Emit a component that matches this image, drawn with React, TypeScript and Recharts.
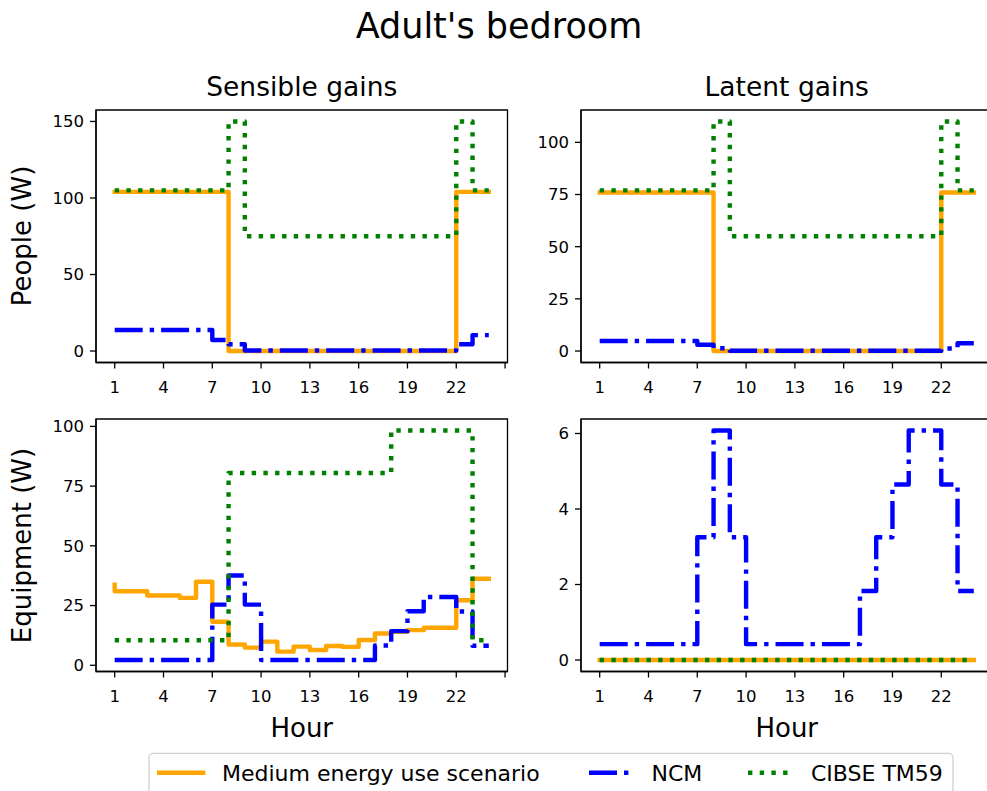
import React from 'react';
import { LineChart, Line, XAxis, YAxis, ReferenceArea } from 'recharts';

// ---- data -------------------------------------------------------------
const hours = [1, 2, 3, 4, 5, 6, 7, 8, 9, 10, 11, 12, 13, 14, 15, 16, 17, 18, 19, 20, 21, 22, 23, 24];
const seriesNames = ['Medium energy use scenario', 'NCM', 'CIBSE TM59'];
const xTicks = [1, 4, 7, 10, 13, 16, 19, 22, 25];

// People, sensible (W)
const peopleSensibleMedium = [104, 104, 104, 104, 104, 104, 104, 104, 0, 0, 0, 0, 0, 0, 0, 0, 0, 0, 0, 0, 0, 0, 104, 104];
const peopleSensibleNcm = [13.7, 13.7, 13.7, 13.7, 13.7, 13.7, 13.7, 7.2, 4.4, 0.3, 0.3, 0.3, 0.3, 0.3, 0.3, 0.3, 0.3, 0.3, 0.3, 0.3, 0.3, 0.3, 4.4, 10.4];
const peopleSensibleTm59 = [105, 105, 105, 105, 105, 105, 105, 105, 150, 75, 75, 75, 75, 75, 75, 75, 75, 75, 75, 75, 75, 75, 150, 105];

// People, latent (W)
const peopleLatentMedium = [76, 76, 76, 76, 76, 76, 76, 76, 0, 0, 0, 0, 0, 0, 0, 0, 0, 0, 0, 0, 0, 0, 76, 76];
const peopleLatentNcm = [4.8, 4.8, 4.8, 4.8, 4.8, 4.8, 4.8, 3.0, 1.3, 0.1, 0.1, 0.1, 0.1, 0.1, 0.1, 0.1, 0.1, 0.1, 0.1, 0.1, 0.1, 0.1, 1.2, 3.7];
const peopleLatentTm59 = [77, 77, 77, 77, 77, 77, 77, 77, 110, 55, 55, 55, 55, 55, 55, 55, 55, 55, 55, 55, 55, 55, 110, 77];

// Equipment, sensible (W)
const equipSensibleMedium = [33.7, 31, 31, 29.2, 29.2, 28.2, 35, 18.2, 8.7, 7.4, 9.9, 5.7, 7.8, 6.4, 8.1, 7.7, 10.6, 13.3, 14, 14.7, 15.7, 15.7, 27.2, 36.2];
const equipSensibleNcm = [2.2, 2.2, 2.2, 2.2, 2.2, 2.2, 2.2, 25.4, 37.6, 25.4, 2.2, 2.2, 2.2, 2.2, 2.2, 2.2, 2.2, 8.3, 14.3, 22.6, 28.6, 28.6, 22.5, 8.2];
const equipSensibleTm59 = [10.5, 10.5, 10.5, 10.5, 10.5, 10.5, 10.5, 10.5, 80.5, 80.5, 80.5, 80.5, 80.5, 80.5, 80.5, 80.5, 80.5, 80.5, 98.3, 98.3, 98.3, 98.3, 98.3, 10.5];

// Equipment, latent (W)
const equipLatentMedium = [0, 0, 0, 0, 0, 0, 0, 0, 0, 0, 0, 0, 0, 0, 0, 0, 0, 0, 0, 0, 0, 0, 0, 0];
const equipLatentNcm = [0.42, 0.42, 0.42, 0.42, 0.42, 0.42, 0.42, 3.25, 6.08, 3.25, 0.42, 0.42, 0.42, 0.42, 0.42, 0.42, 0.42, 1.83, 3.25, 4.65, 6.08, 6.08, 4.65, 1.83];
const equipLatentTm59 = [0, 0, 0, 0, 0, 0, 0, 0, 0, 0, 0, 0, 0, 0, 0, 0, 0, 0, 0, 0, 0, 0, 0, 0];

// ---- styling ----------------------------------------------------------
const FONT = '"DejaVu Sans", sans-serif';
const ORANGE = '#FFA500';
const BLUE = '#0000FF';
const GREEN = '#008000';
const LW = 4.4;
const NCM_DASH = '28 7 4.4 7';
const TM59_DASH = '4.4 7.3';

const X_DOMAIN: [number, number] = [-0.15, 25.15];
const PLOT_W = 411.5;
const PLOT_H = 252.5;
const Y_AXIS_W = 96;
const X_AXIS_H = 60;
const TOP_PAD = 10;

type Row = { hour: number; medium: number; ncm: number; tm59: number };

const buildRows = (medium: number[], ncm: number[], tm59: number[]): Row[] =>
  hours.map((h, i) => ({ hour: h, medium: medium[i], ncm: ncm[i], tm59: tm59[i] }));

const tickStyle = { fontSize: 16.5, fill: '#000', fontFamily: FONT };
const axisStroke = { stroke: '#000', strokeWidth: 1.3 };

type PanelProps = {
  rows: Row[];
  yDomain: [number, number];
  yTicks: number[];
  left: number;
  top: number;
};

function Panel({ rows, yDomain, yTicks, left, top }: PanelProps) {
  return (
    <div style={{ position: 'absolute', left, top }}>
      <LineChart
        width={Y_AXIS_W + PLOT_W + 2}
        height={TOP_PAD + PLOT_H + X_AXIS_H}
        data={rows}
        margin={{ top: TOP_PAD, right: 2, bottom: 0, left: 0 }}
      >
        <XAxis
          dataKey="hour"
          type="number"
          domain={X_DOMAIN}
          ticks={xTicks}
          interval={0}
          tickFormatter={(v: number) => (v === 25 ? '' : String(v))}
          axisLine={axisStroke}
          tickLine={axisStroke}
          tickSize={6}
          tickMargin={13}
          height={X_AXIS_H}
          tick={tickStyle}
        />
        <YAxis
          type="number"
          domain={yDomain}
          ticks={yTicks}
          interval={0}
          width={Y_AXIS_W}
          axisLine={axisStroke}
          tickLine={axisStroke}
          tickSize={6}
          tickMargin={6}
          tick={tickStyle}
        />
        <Line
          type="stepBefore"
          dataKey="medium"
          name={seriesNames[0]}
          stroke={ORANGE}
          strokeWidth={LW}
          strokeLinecap="square"
          strokeLinejoin="round"
          dot={false}
          activeDot={false}
          isAnimationActive={false}
        />
        <Line
          type="stepBefore"
          dataKey="ncm"
          name={seriesNames[1]}
          stroke={BLUE}
          strokeWidth={LW}
          strokeDasharray={NCM_DASH}
          strokeLinejoin="round"
          dot={false}
          activeDot={false}
          isAnimationActive={false}
        />
        <Line
          type="stepBefore"
          dataKey="tm59"
          name={seriesNames[2]}
          stroke={GREEN}
          strokeWidth={LW}
          strokeDasharray={TM59_DASH}
          strokeLinejoin="round"
          dot={false}
          activeDot={false}
          isAnimationActive={false}
        />
        {/* axes frame (top and right spines included) */}
        <ReferenceArea
          x1={X_DOMAIN[0]}
          x2={X_DOMAIN[1]}
          y1={yDomain[0]}
          y2={yDomain[1]}
          fill="none"
          fillOpacity={0}
          stroke="#000"
          strokeWidth={1.3}
          strokeOpacity={1}
          ifOverflow="visible"
        />
      </LineChart>
    </div>
  );
}

// Legend handles: colour + dash pattern per series
const legendItems = [
  { name: seriesNames[0], color: ORANGE, dash: undefined as string | undefined, cap: 'square', lineX: 159.2, textX: 222 },
  { name: seriesNames[1], color: BLUE, dash: NCM_DASH, cap: 'butt', lineX: 589, textX: 651.5 },
  { name: seriesNames[2], color: GREEN, dash: TM59_DASH, cap: 'butt', lineX: 748, textX: 811 },
];

export default function App() {
  const leftX = 0;
  const rightX = 485;
  const topY = 100;
  const bottomY = 409;
  return (
    <div
      style={{
        position: 'absolute',
        left: 0,
        top: 0,
        width: 987,
        height: 791,
        overflow: 'hidden',
        background: '#fff',
      }}
    >
      <Panel
        rows={buildRows(peopleSensibleMedium, peopleSensibleNcm, peopleSensibleTm59)}
        yDomain={[-7.5, 157.5]}
        yTicks={[0, 50, 100, 150]}
        left={leftX}
        top={topY}
      />
      <Panel
        rows={buildRows(peopleLatentMedium, peopleLatentNcm, peopleLatentTm59)}
        yDomain={[-5.5, 115.5]}
        yTicks={[0, 25, 50, 75, 100]}
        left={rightX}
        top={topY}
      />
      <Panel
        rows={buildRows(equipSensibleMedium, equipSensibleNcm, equipSensibleTm59)}
        yDomain={[-2.6, 103.1]}
        yTicks={[0, 25, 50, 75, 100]}
        left={leftX}
        top={bottomY}
      />
      <Panel
        rows={buildRows(equipLatentMedium, equipLatentNcm, equipLatentTm59)}
        yDomain={[-0.304, 6.384]}
        yTicks={[0, 2, 4, 6]}
        left={rightX}
        top={bottomY}
      />
      <svg
        width={987}
        height={791}
        style={{ position: 'absolute', left: 0, top: 0, pointerEvents: 'none' }}
        fontFamily={FONT}
      >
        <text x={499} y={37.5} fontSize={35} textAnchor="middle" fill="#000">
          Adult's bedroom
        </text>
        <text x={301.75} y={96} fontSize={26.5} textAnchor="middle" fill="#000">
          Sensible gains
        </text>
        <text x={786.75} y={96} fontSize={26.5} textAnchor="middle" fill="#000">
          Latent gains
        </text>
        <text x={31} y={236} fontSize={26} textAnchor="middle" fill="#000" transform="rotate(-90 31 236)">
          People (W)
        </text>
        <text x={31} y={545.5} fontSize={26} textAnchor="middle" fill="#000" transform="rotate(-90 31 545.5)">
          Equipment (W)
        </text>
        <text x={301.75} y={736.5} fontSize={26} textAnchor="middle" fill="#000">
          Hour
        </text>
        <text x={786.75} y={736.5} fontSize={26} textAnchor="middle" fill="#000">
          Hour
        </text>
        <rect x={149} y={753.3} width={804} height={60} rx={4.4} fill="#fff" stroke="#d0d0d0" strokeWidth={1.3} />
        {legendItems.map((it) => (
          <g key={it.name}>
            <line
              x1={it.lineX}
              x2={it.lineX + 44}
              y1={772.7}
              y2={772.7}
              stroke={it.color}
              strokeWidth={LW}
              strokeDasharray={it.dash}
              strokeLinecap={it.cap as 'square' | 'butt'}
            />
            <text x={it.textX} y={780.8} fontSize={22} fill="#000">
              {it.name}
            </text>
          </g>
        ))}
      </svg>
    </div>
  );
}
